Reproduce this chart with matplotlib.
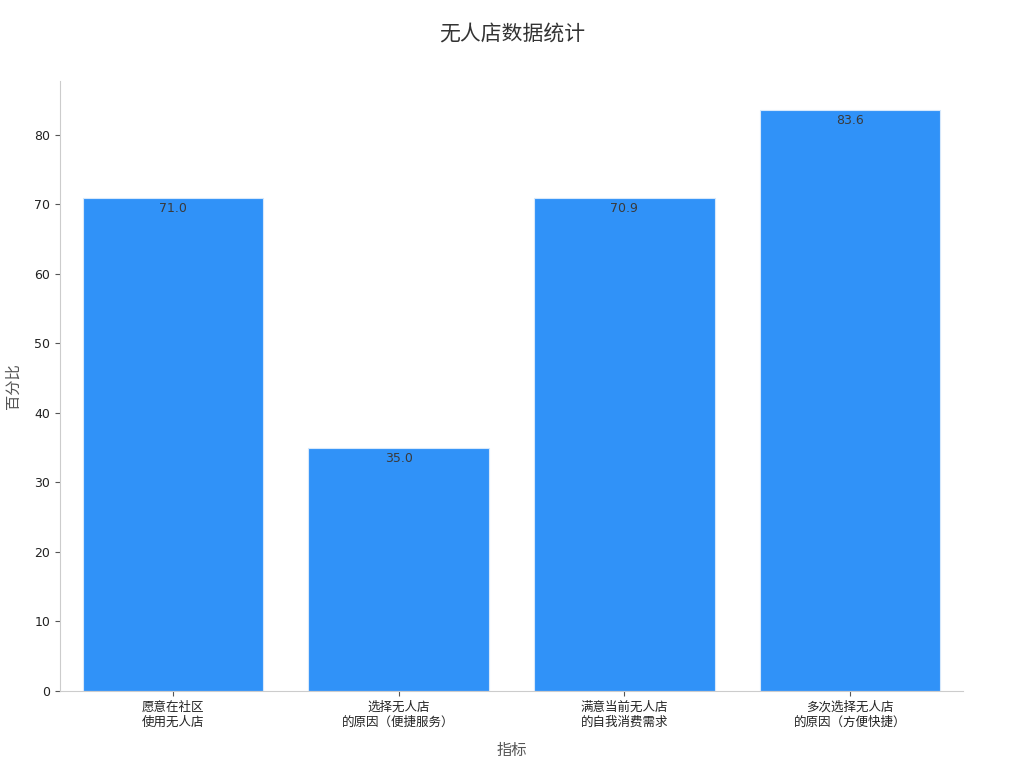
import matplotlib
matplotlib.use('Agg')
from matplotlib import pyplot as plt

plt.rcParams['font.family'] = ['DejaVu Sans', 'Noto Sans CJK SC']

categories = ['愿意在社区\n使用无人店', '选择无人店\n的原因（便捷服务）',
              '满意当前无人店\n的自我消费需求', '多次选择无人店\n的原因（方便快捷）']
values = [71.0, 35.0, 70.9, 83.6]

fig = plt.figure(figsize=(10.24, 7.68), dpi=100)
ax = fig.add_axes([0.0586, 0.1003, 0.8818, 0.7945])

x = range(len(categories))
bars = ax.bar(x, values, width=0.8, color='#3092f8', edgecolor='#d6e8fb', linewidth=0.8)
for b, v in zip(bars, values):
    ax.text(b.get_x() + b.get_width() / 2, v - 0.6, f'{v:.1f}',
            ha='center', va='top', fontsize=9, color='#3a3a3a')

ax.set_xlim(-0.5, 3.5)
ax.set_ylim(0, 87.8)
ax.set_xticks(list(x))
ax.set_xticklabels(categories, fontsize=9, color='#222222')
ax.tick_params(axis='y', labelsize=9, labelcolor='#222222', color='#555555')
ax.tick_params(axis='x', color='#555555')
ax.set_yticks(range(0, 90, 10))

for s in ['top', 'right']:
    ax.spines[s].set_visible(False)
for s in ['left', 'bottom']:
    ax.spines[s].set_color('#cccccc')

ax.set_xlabel('指标', fontsize=11, color='#555555', labelpad=10)
ax.set_ylabel('百分比', fontsize=11, color='#555555', labelpad=10)
fig.suptitle('无人店数据统计', fontsize=15, color='#333333', y=0.968)

fig.savefig('out.png', dpi=100)
